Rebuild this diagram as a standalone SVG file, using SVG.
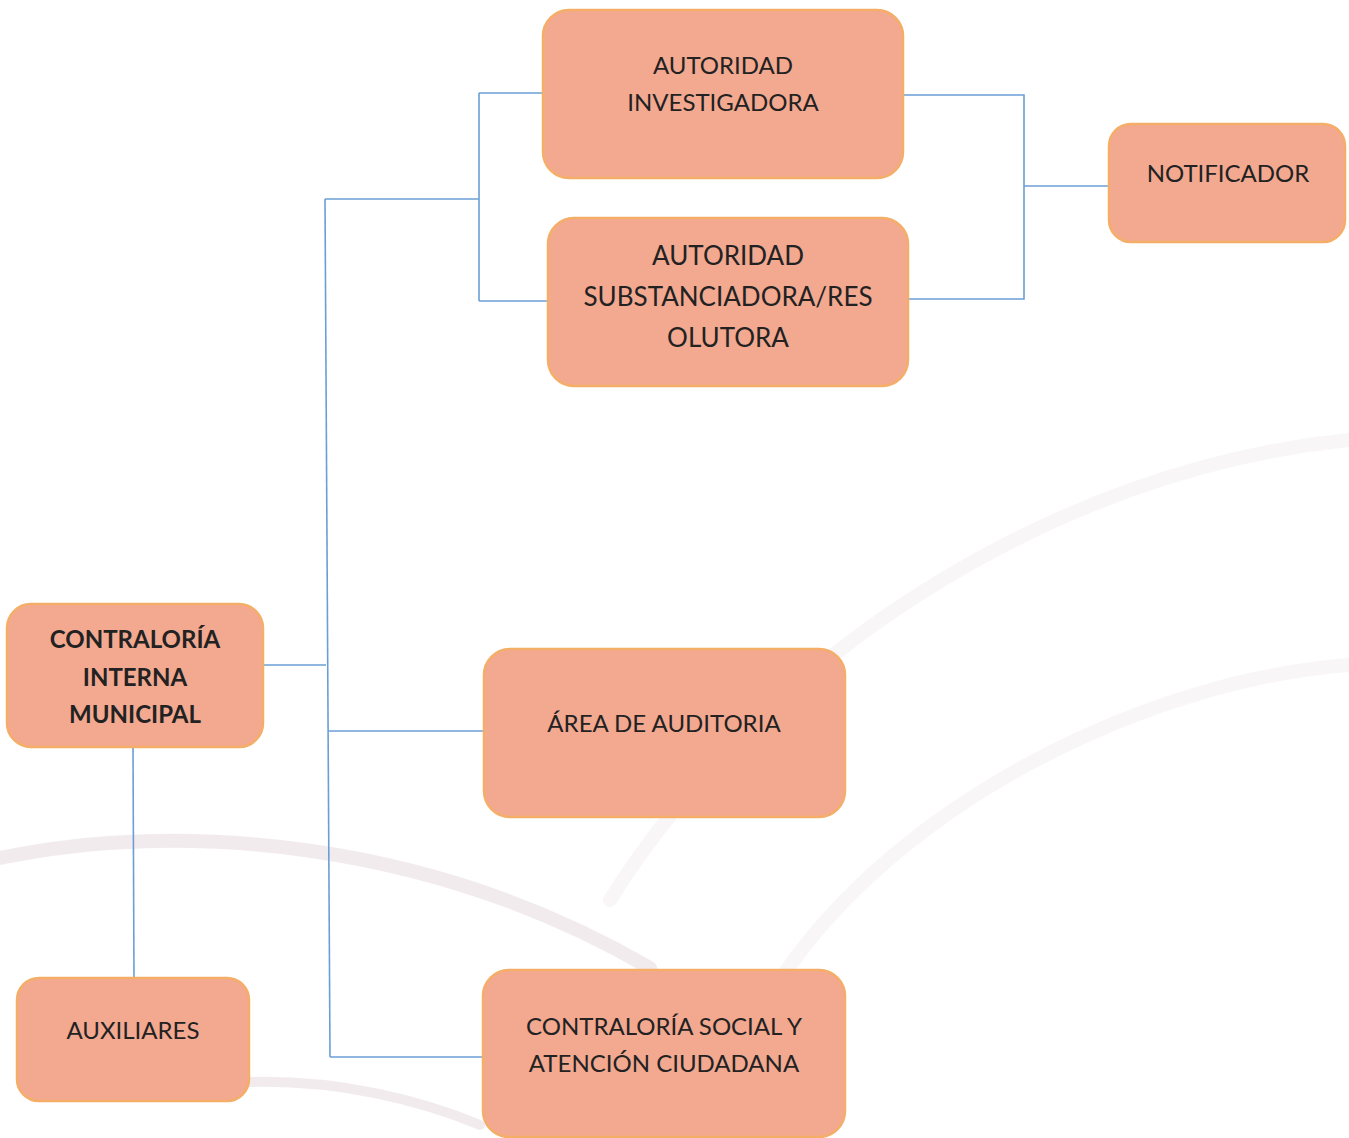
<svg xmlns="http://www.w3.org/2000/svg" width="1349" height="1138" viewBox="0 0 1349 1138">
<style>
.box{fill:#F3A890;stroke:#F5AE68;stroke-width:2.5}
.t{font-family:Lato,"Open Sans",sans-serif;font-size:24px;fill:#222;text-anchor:middle}
.b{font-weight:bold}
.c{fill:none;stroke:#6A9FD6;stroke-width:1.6}
.wm{fill:none;stroke:#EFE6EA;stroke-linecap:round}
</style>
<rect width="1349" height="1138" fill="#FFFFFF"/>
<g id="watermark">
<path class="wm" stroke-width="14" opacity="0.8" d="M0,858 C180,820 430,840 650,968"/>
<path class="wm" stroke-width="10" opacity="0.8" d="M250,1082 C340,1080 420,1100 480,1125"/>
<path class="wm" stroke-width="14" opacity="0.35" d="M610,900 C760,660 1050,470 1349,440"/>
<path class="wm" stroke-width="14" opacity="0.35" d="M780,980 C900,800 1150,680 1349,665"/>
</g>
<g id="connectors">
<path class="c" d="M263,665 H326"/>
<path class="c" d="M325,199 L330,1057"/>
<path class="c" d="M325,199 H479"/>
<path class="c" d="M479,93 V301"/>
<path class="c" d="M479,93 H543"/>
<path class="c" d="M479,301 H548"/>
<path class="c" d="M328,731 H484"/>
<path class="c" d="M330,1057 H483"/>
<path class="c" d="M133,747 L134,980"/>
<path class="c" d="M903,95 H1024 V299 H908"/>
<path class="c" d="M1024,186 H1109"/>
</g>
<g id="autoridad-investigadora">
<rect class="box" x="543" y="10" width="360" height="168" rx="26"/>
<text class="t" x="723" y="74">AUTORIDAD</text>
<text class="t" x="723" y="111">INVESTIGADORA</text>
</g>
<g id="autoridad-substanciadora">
<rect class="box" x="548" y="218" width="360" height="168" rx="26"/>
<text class="t" x="728" y="265" style="font-size:26px">AUTORIDAD</text>
<text class="t" x="728" y="306" style="font-size:26px">SUBSTANCIADORA/RES</text>
<text class="t" x="728" y="347" style="font-size:26px">OLUTORA</text>
</g>
<g id="notificador">
<rect class="box" x="1109" y="124" width="236" height="118" rx="22"/>
<text class="t" x="1228" y="182">NOTIFICADOR</text>
</g>
<g id="contraloria-interna">
<rect class="box" x="7" y="604" width="256" height="143" rx="24"/>
<text class="t b" x="135" y="648">CONTRALORÍA</text>
<text class="t b" x="135" y="686">INTERNA</text>
<text class="t b" x="135" y="723">MUNICIPAL</text>
</g>
<g id="area-auditoria">
<rect class="box" x="484" y="649" width="361" height="168" rx="26"/>
<text class="t" x="664" y="732">ÁREA DE AUDITORIA</text>
</g>
<g id="auxiliares">
<rect class="box" x="17" y="978" width="232" height="123" rx="22"/>
<text class="t" x="133" y="1039">AUXILIARES</text>
</g>
<g id="contraloria-social">
<rect class="box" x="483" y="970" width="362" height="167" rx="26"/>
<text class="t" x="664" y="1035">CONTRALORÍA SOCIAL Y</text>
<text class="t" x="664" y="1072">ATENCIÓN CIUDADANA</text>
</g>
</svg>
